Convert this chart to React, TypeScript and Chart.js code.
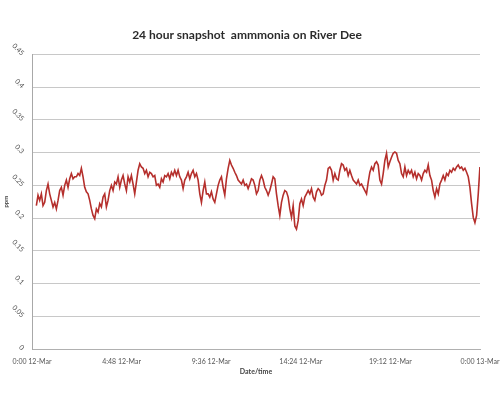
import React, { useEffect, useRef } from "react";
import { Chart, registerables } from "chart.js";

Chart.register(...registerables);

// Ammonia readings (ppm), logged roughly every 5.36 minutes from 0:14 on 12-Mar to 0:00 on 13-Mar
const SEG_NIGHT = [
  0.219, 0.235, 0.227, 0.237, 0.219, 0.224, 0.242, 0.252, 0.237, 0.227,
  0.217, 0.224, 0.214, 0.227, 0.242, 0.247, 0.235, 0.25, 0.258, 0.247,
  0.26, 0.268, 0.26, 0.263, 0.263, 0.268, 0.265, 0.276, 0.263, 0.247,
  0.24, 0.237, 0.227, 0.214, 0.204, 0.199, 0.214, 0.209, 0.222, 0.217,
  0.232, 0.237, 0.217, 0.227, 0.242, 0.25, 0.242, 0.255, 0.252,
];
const SEG_MORNING = [
  0.263, 0.247, 0.258, 0.265, 0.252, 0.242, 0.263, 0.255, 0.265, 0.252,
  0.237, 0.255, 0.273, 0.283, 0.278, 0.276, 0.268, 0.273, 0.263, 0.27,
  0.268, 0.263, 0.265, 0.25, 0.252, 0.247, 0.26, 0.255, 0.265, 0.263,
  0.268, 0.26, 0.27, 0.265, 0.273, 0.265, 0.273, 0.263, 0.258, 0.245,
  0.258, 0.263, 0.27, 0.26, 0.268, 0.273, 0.263, 0.268, 0.258, 0.237,
  0.224, 0.242, 0.255, 0.237,
];
const SEG_MIDDAY = [
  0.237, 0.232, 0.24, 0.229, 0.224, 0.237, 0.25, 0.258, 0.263, 0.247,
  0.235, 0.26, 0.276, 0.288, 0.281, 0.276, 0.27, 0.265, 0.258, 0.255,
  0.252, 0.258, 0.25, 0.252, 0.245, 0.252, 0.26, 0.258, 0.25, 0.237,
  0.242, 0.258, 0.265, 0.258, 0.247, 0.242, 0.235, 0.242, 0.252, 0.263,
  0.26, 0.237, 0.219, 0.204, 0.224, 0.235, 0.242, 0.24, 0.232, 0.214,
  0.201, 0.219, 0.188, 0.183,
];
const SEG_AFTERNOON = [
  0.196, 0.222, 0.229, 0.219, 0.232, 0.237, 0.242, 0.237, 0.245, 0.232,
  0.227, 0.24, 0.245, 0.242, 0.235, 0.237, 0.25, 0.258, 0.276, 0.278,
  0.273, 0.258, 0.268, 0.26, 0.258, 0.273, 0.283, 0.281, 0.273, 0.276,
  0.265, 0.273, 0.265, 0.258, 0.255, 0.252, 0.258, 0.25, 0.252, 0.247,
  0.242, 0.237, 0.255, 0.27, 0.278, 0.273, 0.283, 0.286, 0.281, 0.258,
  0.252, 0.268, 0.288, 0.299,
];
const SEG_EVENING = [
  0.278, 0.286, 0.293, 0.299, 0.301, 0.299, 0.288, 0.283, 0.268, 0.263,
  0.278, 0.265, 0.273, 0.268, 0.273, 0.263, 0.27, 0.26, 0.268, 0.265,
  0.258, 0.268, 0.273, 0.27, 0.281, 0.265, 0.258, 0.242, 0.232, 0.245,
  0.237, 0.252, 0.258, 0.265, 0.258, 0.268, 0.265, 0.273, 0.27, 0.276,
  0.273, 0.278, 0.281, 0.276, 0.278, 0.273, 0.276, 0.27, 0.263, 0.247,
  0.222, 0.201, 0.193, 0.204, 0.237, 0.278,
];

const START_MIN = 14;
const STEP_MIN = 5.36;

const X_TICK_MINUTES = [0, 288, 576, 864, 1152, 1440];
const X_TICK_LABELS = ["0:00 12-Mar", "4:48 12-Mar", "9:36 12-Mar", "14:24 12-Mar", "19:12 12-Mar", "0:00 13-Mar"];
const Y_TICK_VALUES = [0, 0.05, 0.1, 0.15, 0.2, 0.25, 0.3, 0.35, 0.4, 0.45];
const Y_TICK_LABELS = ["0", "0.05", "0.1", "0.15", "0.2", "0.25", "0.3", "0.35", "0.4", "0.45"];

const TITLE = "24 hour snapshot  ammmonia on River Dee";
const X_TITLE = "Date/time";
const Y_TITLE = "ppm";

export default function App() {
  const ref = useRef<HTMLCanvasElement | null>(null);

  useEffect(() => {
    document.body.style.margin = "0";
    const values = [...SEG_NIGHT, ...SEG_MORNING, ...SEG_MIDDAY, ...SEG_AFTERNOON, ...SEG_EVENING];
    const points = values.map((v, i) => ({ x: START_MIN + i * STEP_MIN, y: v }));
    const font = "Lato, 'Liberation Sans', sans-serif";
    const chart = new Chart(ref.current!, {
      type: "line",
      data: {
        datasets: [
          {
            data: points,
            borderColor: "#b52f2c",
            borderWidth: 1.6,
            pointRadius: 0,
            tension: 0,
            fill: false,
          },
        ],
      },
      options: {
        animation: false,
        responsive: true,
        maintainAspectRatio: false,
        layout: { padding: { left: 0, right: 10, top: 0, bottom: 0 } },
        plugins: {
          legend: { display: false },
          tooltip: { enabled: false },
          title: {
            display: true,
            text: TITLE,
            color: "#2b2b2b",
            font: { family: font, size: 12, weight: "bold" },
            padding: { top: 28, bottom: 12 },
          },
        },
        scales: {
          x: {
            type: "linear",
            min: 0,
            max: 1440,
            afterBuildTicks: (scale: any) => {
              scale.ticks = X_TICK_MINUTES.map((v) => ({ value: v }));
            },
            afterFit: (scale: any) => {
              scale.height = 46;
              scale.paddingRight = 24;
            },
            ticks: {
              autoSkip: false,
              maxRotation: 0,
              minRotation: 0,
              padding: 9,
              color: "#555",
              font: { family: font, size: 7 },
              callback: (v: any) => {
                const i = X_TICK_MINUTES.indexOf(Number(v));
                return i >= 0 ? X_TICK_LABELS[i] : "";
              },
            },
            grid: { display: false, drawTicks: false },
            border: { display: true, color: "#b0b0b0", width: 1 },
            title: {
              display: true,
              text: X_TITLE,
              color: "#444",
              font: { family: font, size: 7, weight: "bold" },
              padding: { top: 0, bottom: 19 },
            },
          },
          y: {
            min: 0,
            max: 0.45,
            afterBuildTicks: (scale: any) => {
              scale.ticks = Y_TICK_VALUES.map((v) => ({ value: v }));
            },
            afterFit: (scale: any) => {
              scale.width = 32;
            },
            ticks: {
              autoSkip: false,
              minRotation: -45,
              maxRotation: -45,
              padding: 9,
              color: "#555",
              font: { family: font, size: 7 },
              callback: (v: any) => {
                const i = Y_TICK_VALUES.findIndex((t) => Math.abs(t - Number(v)) < 1e-9);
                return i >= 0 ? Y_TICK_LABELS[i] : "";
              },
            },
            grid: { color: "#c8c8c8", lineWidth: 1, drawTicks: false },
            border: { display: true, color: "#a8a8a8", width: 1 },
            title: {
              display: true,
              text: Y_TITLE,
              color: "#444",
              font: { family: font, size: 6, weight: "bold" },
              padding: { top: 2, bottom: 0 },
            },
          },
        },
      },
    });
    return () => chart.destroy();
  }, []);

  return (
    <div style={{ position: "fixed", left: 0, top: 0, width: 504, height: 395, background: "#fff" }}>
      <canvas ref={ref} />
    </div>
  );
}
